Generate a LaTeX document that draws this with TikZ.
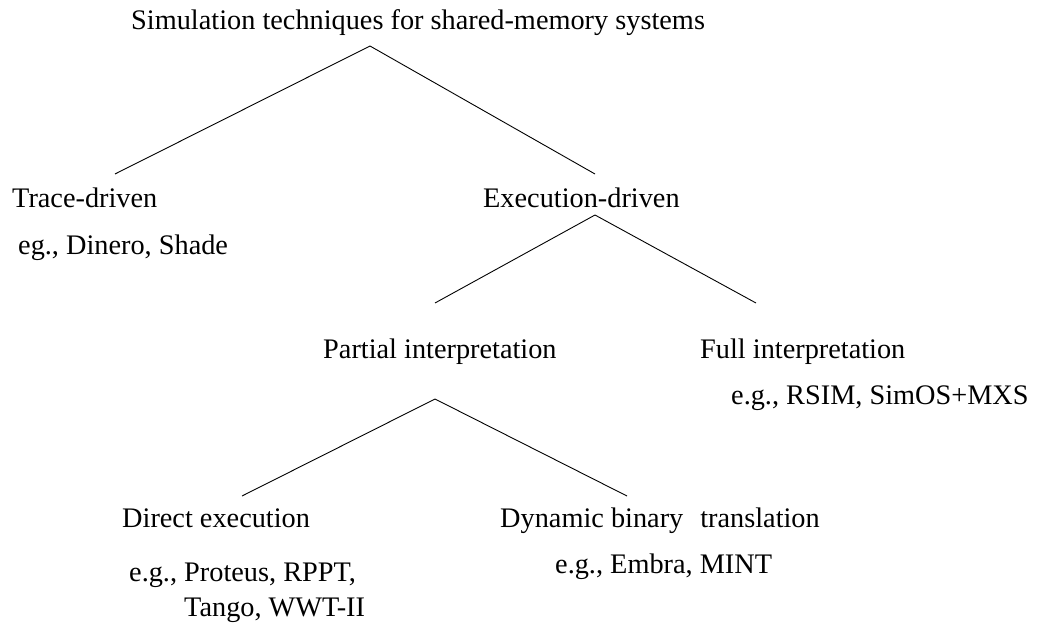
\documentclass[tikz,border=0pt]{standalone}
\usepackage{fontspec}
\setmainfont{Liberation Serif}

\begin{document}
\begin{tikzpicture}[x=1pt, y=-1pt, every node/.style={inner sep=0pt, anchor=base west, font=\fontsize{28.3}{34}\selectfont}, branch/.style={line width=0.9pt}]
    \useasboundingbox (0,0) rectangle (1037,629);

    % labels
    \node (root) at (131,29) {Simulation techniques for shared-memory systems};
    \node (trace) at (12,207) {Trace-driven};
    \node (traceex) at (18,254) {eg., Dinero, Shade};
    \node (exec) at (483,207) {Execution-driven};
    \node (partial) at (323,358) {Partial interpretation};
    \node (full) at (700,358) {Full interpretation};
    \node (fullex) at (731,404) {e.g., RSIM, SimOS+MXS};
    \node (direct) at (122,527) {Direct execution};
    \node (directex) at (129,581) {e.g., Proteus, RPPT,};
    \node (directex2) at (184,616) {Tango, WWT-II};
    \node (dynamic) at (500,527) {Dynamic binary\hspace{0.6em}translation};
    \node (dynamicex) at (555,573) {e.g., Embra, MINT};

    % fork points
    \coordinate (rootfork) at (370,46);
    \coordinate (tracetip) at (115,174);
    \coordinate (exectip) at (595,174);
    \coordinate (execfork) at (595,215);
    \coordinate (partialtip) at (435,303);
    \coordinate (fulltip) at (756,303);
    \coordinate (partialfork) at (435,399);
    \coordinate (directtip) at (242,496);
    \coordinate (dynamictip) at (627,496);

    \path[branch]
        (rootfork) edge (tracetip)
        (rootfork) edge (exectip)
        (execfork) edge (partialtip)
        (execfork) edge (fulltip)
        (partialfork) edge (directtip)
        (partialfork) edge (dynamictip);
\end{tikzpicture}
\end{document}
